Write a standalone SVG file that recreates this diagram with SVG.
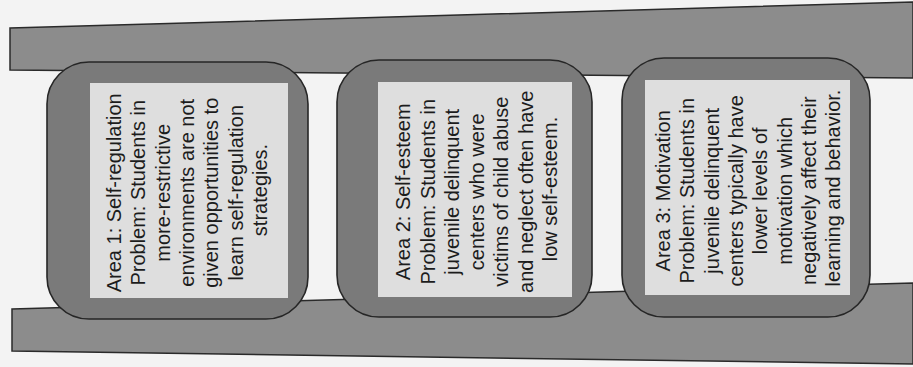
<svg xmlns="http://www.w3.org/2000/svg" width="913" height="367" viewBox="0 0 913 367">
  <style>
    .rail { fill: #8c8c8c; stroke: #2a2a2a; stroke-width: 1.5; }
    .outer { fill: #7a7a7a; stroke: #262626; stroke-width: 1.6; }
    .inner { fill: #dedede; }
    .lbl { font-family: "Liberation Sans", Arial, sans-serif; font-size: 20px; fill: #1c1c1c; text-anchor: middle; }
  </style>
  <rect x="0" y="0" width="913" height="367" fill="#f3f3f3"/>
  <g id="rails">
    <polygon class="rail" points="10,28 913,2 913,78 10,70"/>
    <polygon class="rail" points="12,309 913,283 913,364 12,351"/>
  </g>
  <g id="connectors"></g>
  <g id="area1">
    <rect class="outer" x="47" y="62" width="261" height="257" rx="42" ry="42"/>
    <rect class="inner" x="90" y="83" width="198" height="215"/>
    <text class="lbl" transform="translate(121,190) rotate(-90)">
      <tspan x="0" dy="0">Area 1: Self-regulation</tspan>
      <tspan x="0" dy="24.3">Problem: Students in</tspan>
      <tspan x="0" dy="24.3">more-restrictive</tspan>
      <tspan x="0" dy="24.3">environments are not</tspan>
      <tspan x="0" dy="24.3">given opportunities to</tspan>
      <tspan x="0" dy="24.3">learn self-regulation</tspan>
      <tspan x="0" dy="24.3">strategies.</tspan>
    </text>
  </g>
  <g id="area2">
    <rect class="outer" x="337" y="60" width="255" height="257" rx="42" ry="42"/>
    <rect class="inner" x="378" y="82" width="194" height="215"/>
    <text class="lbl" transform="translate(410,189) rotate(-90)">
      <tspan x="0" dy="0">Area 2: Self-esteem</tspan>
      <tspan x="0" dy="24.5">Problem: Students in</tspan>
      <tspan x="0" dy="24.5">juvenile delinquent</tspan>
      <tspan x="0" dy="24.5">centers who were</tspan>
      <tspan x="0" dy="24.5">victims of child abuse</tspan>
      <tspan x="0" dy="24.5">and neglect often have</tspan>
      <tspan x="0" dy="24.5">low self-esteem.</tspan>
    </text>
  </g>
  <g id="area3">
    <rect class="outer" x="622" y="58" width="248" height="259" rx="42" ry="42"/>
    <rect class="inner" x="645" y="80" width="205" height="215"/>
    <text class="lbl" transform="translate(670,188) rotate(-90)">
      <tspan x="0" dy="0">Area 3: Motivation</tspan>
      <tspan x="0" dy="24.3">Problem: Students in</tspan>
      <tspan x="0" dy="24.3">juvenile delinquent</tspan>
      <tspan x="0" dy="24.3">centers typically have</tspan>
      <tspan x="0" dy="24.3">lower levels of</tspan>
      <tspan x="0" dy="24.3">motivation which</tspan>
      <tspan x="0" dy="24.3">negatively affect their</tspan>
      <tspan x="0" dy="24.3">learning and behavior.</tspan>
    </text>
  </g>
</svg>
